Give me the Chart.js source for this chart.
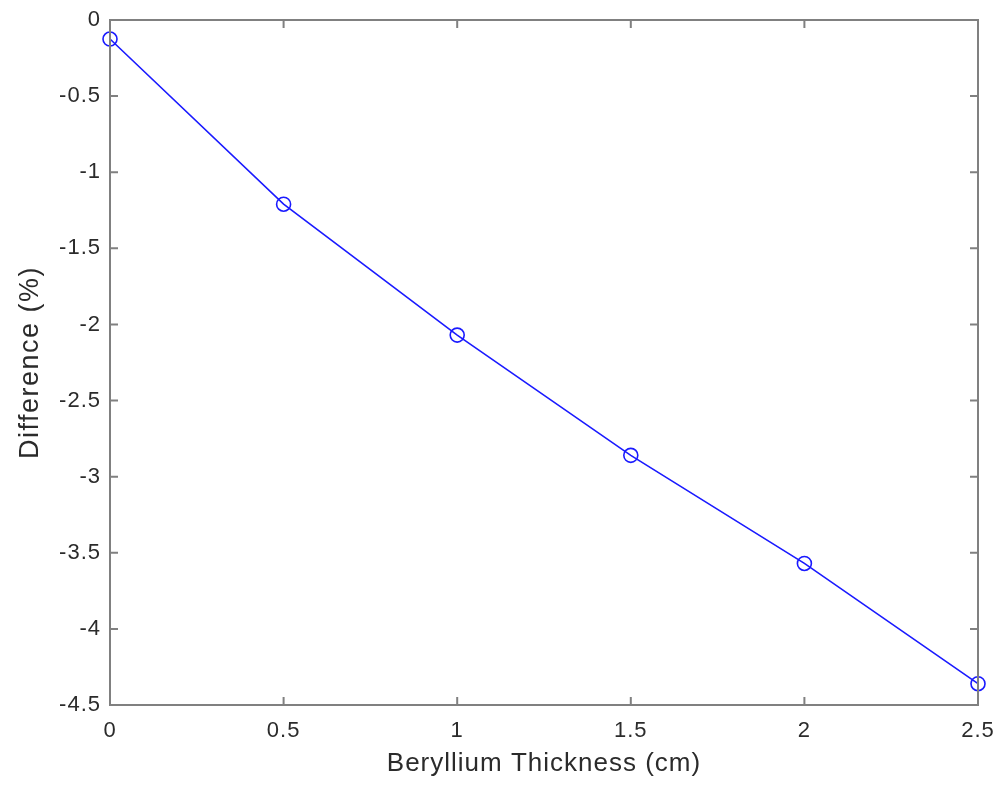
<!DOCTYPE html>
<html>
<head>
<meta charset="utf-8">
<script src="https://cdn.jsdelivr.net/npm/chart.js@4.4.0/dist/chart.umd.min.js"></script>
<style>
  html, body { margin: 0; padding: 0; background: #fff; }
  #wrap { width: 1002px; height: 786px; }
</style>
</head>
<body>
<div id="wrap"><canvas id="chart" width="1002" height="786"></canvas></div>
<script>
// thickness (cm) vs. difference (%)
const thickness = [0, 0.5, 1, 1.5, 2, 2.5];
const difference = [-0.125, -1.21, -2.07, -2.86, -3.57, -4.36];
const xTicks = [0, 0.5, 1, 1.5, 2, 2.5];
const yTicks = [0, -0.5, -1, -1.5, -2, -2.5, -3, -3.5, -4, -4.5];

const axisColor = '#808080';
const textColor = '#2b2b2b';
const font = 'Liberation Sans, Arial, Helvetica, sans-serif';

// slightly loose letter spacing on all text, a bit more on the y title
const spacing = {
  id: 'spacing',
  beforeDraw(chart) {
    chart.ctx.letterSpacing = '1px';
    const wide = { x: '1px', y: '1.5px' };
    Object.keys(wide).forEach(id => {
      const s = chart.scales[id];
      if (s._titlePatched) return;
      const orig = s.drawTitle;
      s.drawTitle = function () {
        this.ctx.save();
        this.ctx.letterSpacing = wide[id];
        orig.call(this);
        this.ctx.restore();
      };
      s._titlePatched = true;
    });
  }
};

// box around the plot with ticks pointing inward on all four sides
const boxTicks = {
  id: 'boxTicks',
  afterDraw(chart) {
    const { ctx, chartArea: a, scales } = chart;
    const len = 8;
    ctx.save();
    ctx.strokeStyle = axisColor;
    ctx.lineWidth = 2;
    ctx.strokeRect(a.left, a.top, a.right - a.left, a.bottom - a.top);
    ctx.beginPath();
    xTicks.forEach(v => {
      const px = scales.x.getPixelForValue(v);
      ctx.moveTo(px, a.bottom); ctx.lineTo(px, a.bottom - len);
      ctx.moveTo(px, a.top); ctx.lineTo(px, a.top + len);
    });
    yTicks.forEach(v => {
      const py = scales.y.getPixelForValue(v);
      ctx.moveTo(a.left, py); ctx.lineTo(a.left + len, py);
      ctx.moveTo(a.right, py); ctx.lineTo(a.right - len, py);
    });
    ctx.stroke();
    ctx.restore();
  }
};

new Chart(document.getElementById('chart'), {
  type: 'scatter',
  data: {
    datasets: [{
      data: thickness.map((t, i) => ({ x: t, y: difference[i] })),
      showLine: true,
      borderColor: '#1a1aff',
      borderWidth: 1.6,
      pointStyle: 'circle',
      pointRadius: 7,
      pointBorderWidth: 1.6,
      pointBorderColor: '#1a1aff',
      pointBackgroundColor: 'rgba(0,0,0,0)',
      clip: false
    }]
  },
  options: {
    responsive: false,
    animation: false,
    layout: { padding: { left: 0, top: 20, right: 24, bottom: 0 } },
    plugins: { legend: { display: false }, tooltip: { enabled: false } },
    scales: {
      x: {
        type: 'linear',
        min: 0,
        max: 2.5,
        afterBuildTicks: s => { s.ticks = xTicks.map(v => ({ value: v })); },
        afterFit: s => { s.height = 81; s.paddingLeft = 0; s.paddingRight = 0; },
        grid: { display: false, drawTicks: false },
        border: { display: false },
        ticks: {
          color: textColor,
          font: { family: font, size: 22 },
          padding: 13,
          maxRotation: 0,
          callback: v => String(v)
        },
        title: {
          display: true,
          text: 'Beryllium Thickness (cm)',
          color: textColor,
          font: { family: font, size: 26 },
          padding: { top: 0, bottom: 7 }
        }
      },
      y: {
        type: 'linear',
        min: -4.5,
        max: 0,
        afterBuildTicks: s => { s.ticks = yTicks.map(v => ({ value: v })); },
        afterFit: s => { s.width = 110; s.paddingTop = 0; s.paddingBottom = 0; },
        grid: { display: false, drawTicks: false },
        border: { display: false },
        ticks: {
          color: textColor,
          font: { family: font, size: 22 },
          padding: 9,
          callback: v => String(v)
        },
        title: {
          display: true,
          text: 'Difference (%)',
          color: textColor,
          font: { family: font, size: 27 },
          padding: { bottom: 0, top: 14 }
        }
      }
    }
  },
  plugins: [spacing, boxTicks]
});
</script>
</body>
</html>
